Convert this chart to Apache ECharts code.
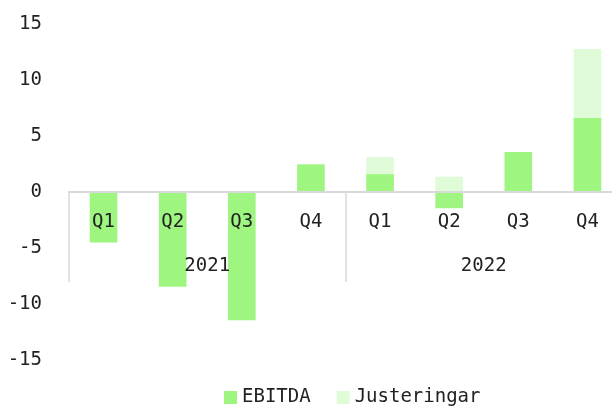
<!DOCTYPE html>
<html>
<head>
<meta charset="utf-8">
<script src="https://cdn.jsdelivr.net/npm/echarts@6/dist/echarts.min.js"></script>
<style>html,body{margin:0;padding:0;background:#fff}#c{width:612px;height:406px}</style>
</head>
<body>
<div id="c"></div>
<script>
var quarters = ['Q1','Q2','Q3','Q4','Q1','Q2','Q3','Q4'];
var years = ['2021','2022'];
var ebitda = [-4.5, -8.45, -11.45, 2.47, 1.6, -1.45, 3.57, 6.63];
var justeringar = [0, 0, 0, 0, 1.52, 1.37, 0, 6.14];
var yTicks = { min: -15, max: 15, interval: 5 };

var FONT = 'DejaVu Sans Mono';
var TXT = '#222';
var chart = echarts.init(document.getElementById('c'), null, {renderer: 'canvas'});
chart.setOption({
  animation: false,
  textStyle: { fontFamily: FONT },
  grid: [
    { left: 69, top: 24, width: 553, height: 336, containLabel: false, outerBoundsMode: 'none' },
    { left: 69, top: 192, width: 553, height: 90, containLabel: false, outerBoundsMode: 'none' }
  ],
  legend: {
    left: 219, top: 383, itemWidth: 13, itemHeight: 13, itemGap: 26,
    icon: 'rect',
    textStyle: { fontFamily: FONT, fontSize: 19, color: TXT },
    data: ['EBITDA', 'Justeringar']
  },
  xAxis: [
    {
      gridIndex: 0, type: 'category', data: quarters, position: 'bottom', z: 5,
      axisLine: { onZero: true, lineStyle: { color: '#d9d9d9', width: 2 } },
      axisTick: { show: false },
      axisLabel: { show: false }
    },
    {
      gridIndex: 1, type: 'category', data: quarters, position: 'top', z: 10,
      axisLine: { show: false, onZero: false },
      axisTick: { show: false },
      axisLabel: { inside: true, margin: 21, fontFamily: FONT, fontSize: 19, color: TXT }
    },
    {
      gridIndex: 1, type: 'category', data: years, position: 'top', z: 10,
      axisLine: { show: false, onZero: false },
      axisTick: { show: true, inside: true, length: 90, lineStyle: { color: '#d9d9d9', width: 1.5 } },
      axisLabel: { inside: true, margin: 65, fontFamily: FONT, fontSize: 19, color: TXT }
    }
  ],
  yAxis: [
    {
      gridIndex: 0, type: 'value', min: yTicks.min, max: yTicks.max, interval: yTicks.interval,
      axisLine: { show: false }, axisTick: { show: false }, splitLine: { show: false },
      axisLabel: { margin: 27, fontFamily: FONT, fontSize: 19, color: TXT }
    },
    {
      gridIndex: 1, type: 'value', show: false, min: 0, max: 1
    }
  ],
  series: [
    { name: 'EBITDA', type: 'bar', stack: 's', data: ebitda, barWidth: '40%', xAxisIndex: 0, yAxisIndex: 0,
      itemStyle: { color: '#9ef580' } },
    { name: 'Justeringar', type: 'bar', stack: 's', data: justeringar, barWidth: '40%', xAxisIndex: 0, yAxisIndex: 0,
      itemStyle: { color: '#dffbd8' } }
  ]
});
</script>
</body>
</html>
